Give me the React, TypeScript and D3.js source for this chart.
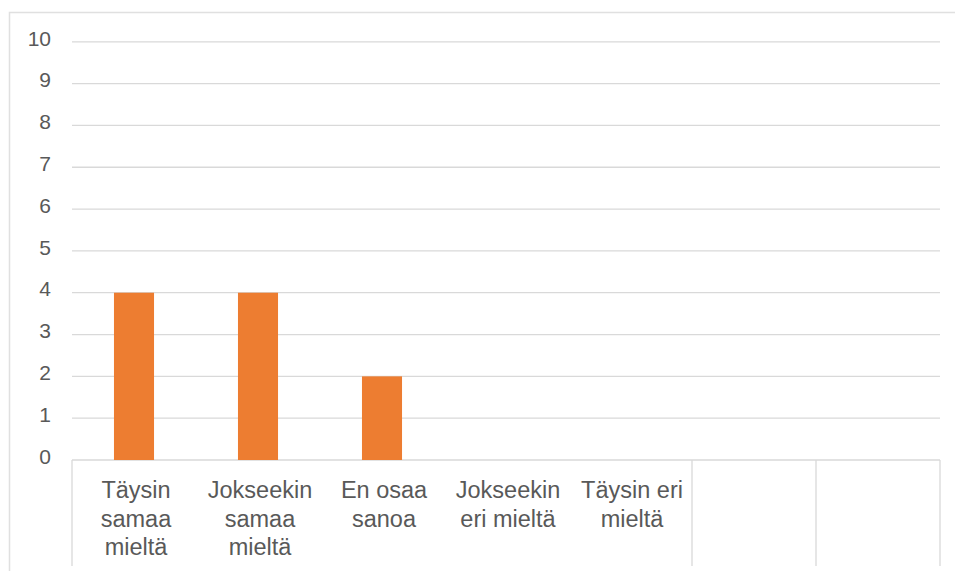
import React from "react";
import * as d3 from "d3";

const categories: string[][] = [
  ["Täysin", "samaa", "mieltä"],
  ["Jokseekin", "samaa", "mieltä"],
  ["En osaa", "sanoa"],
  ["Jokseekin", "eri mieltä"],
  ["Täysin eri", "mieltä"],
  [],
  [],
];
const values: (number | null)[] = [4, 4, 2, 0, 0, null, null];
const yTicks: number[] = [0, 1, 2, 3, 4, 5, 6, 7, 8, 9, 10];

const W = 955;
const H = 571;
const left = 72;
const right = 940;
const top = 41.8;
const bottom = 460;
const font = "'Liberation Sans', Arial, Helvetica, sans-serif";
const grid = "#d9d9d9";
const textColor = "#595959";

export default function App() {
  const idx = categories.map((_, i) => String(i));
  const x = d3.scaleBand<string>().domain(idx).range([left, right]).paddingInner(0).paddingOuter(0);
  const y = d3.scaleLinear().domain([0, 10]).range([bottom, top]);
  const bw = x.bandwidth();
  const barW = bw * 0.323;

  const boundaries: number[] = [];
  for (let i = 0; i <= categories.length; i++) {
    const prevEmpty = i > 0 && categories[i - 1].length === 0;
    const curEmpty = i < categories.length && categories[i].length === 0;
    if (i === 0 || i === categories.length || prevEmpty || curEmpty) boundaries.push(i);
  }

  return (
    <svg width={W} height={H} style={{ position: "absolute", left: 0, top: 0, background: "#fff" }}>
      <rect x={9.5} y={12.5} width={W + 10} height={H + 10} fill="none" stroke="#e0e0e0" strokeWidth={1.5} />
      {yTicks.map((t) => (
        <g key={t}>
          <line x1={left} x2={right} y1={y(t)} y2={y(t)} stroke={grid} strokeWidth={1.3} />
          <text x={51} y={y(t)} dy="0.32em" dx={0} transform="translate(0,-3)" textAnchor="end" fontSize={21} fill={textColor} fontFamily={font}>
            {t}
          </text>
        </g>
      ))}
      {boundaries.map((i) => {
        const bx = left + i * bw;
        return <line key={"b" + i} x1={bx} x2={bx} y1={bottom} y2={566} stroke={grid} strokeWidth={1.3} />;
      })}
      {values.map((v, i) =>
        v && v > 0 ? (
          <rect
            key={"r" + i}
            x={(x(String(i)) as number) + bw / 2 - barW / 2}
            y={y(v)}
            width={barW}
            height={y(0) - y(v)}
            fill="#ED7D31"
          />
        ) : null
      )}
      {categories.map((lines, i) => (
        <text key={"c" + i} textAnchor="middle" fontSize={23.5} fill={textColor} fontFamily={font}>
          {lines.map((l, j) => (
            <tspan key={j} x={(x(String(i)) as number) + bw / 2 + 2} y={498 + j * 28.5}>
              {l}
            </tspan>
          ))}
        </text>
      ))}
    </svg>
  );
}
